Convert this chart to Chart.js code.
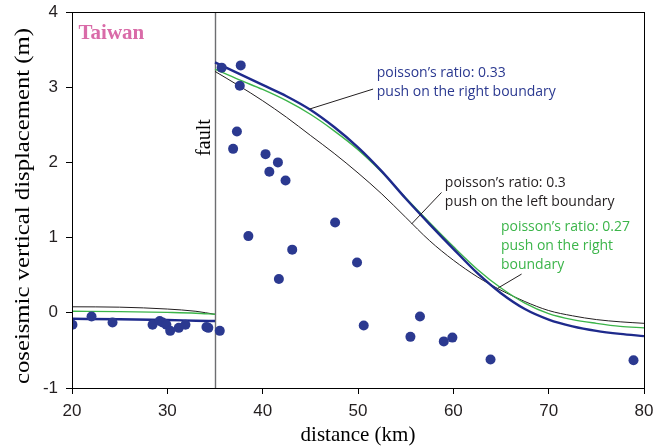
<!DOCTYPE html>
<html>
<head>
<meta charset="utf-8">
<script src="https://cdn.jsdelivr.net/npm/chart.js@4.4.0/dist/chart.umd.min.js"></script>
<style>
  body { margin: 0; background: #fff; }
  #wrap { width: 660px; height: 448px; }
</style>
</head>
<body>
<div id="wrap"><canvas id="disp" width="660" height="448"></canvas></div>
<script>
// measured coseismic uplift (distance km, displacement m)
const obsX = [20.05, 22.05, 24.25, 28.45, 29.2, 29.5, 29.9, 30.3, 31.2, 31.9, 34.1, 34.3, 35.5,
  35.7, 37.7, 37.6, 37.3, 36.9, 40.3, 41.6, 40.7, 42.4, 38.5, 43.1, 41.7, 47.6, 49.9,
  50.6, 56.5, 55.5, 59.0, 59.9, 63.9, 78.9];
const obsY = [-0.16, -0.05, -0.13, -0.16, -0.11, -0.13, -0.16, -0.24, -0.2, -0.16, -0.19, -0.2, -0.24,
  3.26, 3.29, 3.02, 2.41, 2.18, 2.11, 2.0, 1.875, 1.76, 1.02, 0.84, 0.45, 1.2, 0.67,
  -0.17, -0.05, -0.32, -0.38, -0.33, -0.62, -0.63];

// model curves: left of fault and right of fault
const leftX = [20, 25, 30, 33, 35];
const rightX = [35, 37.5, 40, 42.5, 45, 47.5, 50, 52.5, 55, 57.5, 60, 62.5, 65, 67.5, 70, 72.5, 75, 77.5, 80];

// poisson 0.33, push on right boundary
const blueLeft = [-0.08, -0.085, -0.095, -0.105, -0.11];
const blueRight = [3.33, 3.18, 3.03, 2.88, 2.70, 2.47, 2.20, 1.88, 1.52, 1.18, 0.85, 0.53, 0.26, 0.05, -0.09, -0.18, -0.24, -0.28, -0.31];
// poisson 0.27, push on right boundary
const greenLeft = [0.02, 0.015, 0.005, -0.005, -0.02];
const greenRight = [3.24, 3.10, 2.97, 2.82, 2.64, 2.42, 2.17, 1.87, 1.53, 1.20, 0.88, 0.58, 0.33, 0.13, -0.01, -0.09, -0.14, -0.18, -0.20];
// poisson 0.3, push on left boundary
const blackLeft = [0.08, 0.075, 0.05, 0.02, -0.02];
const blackRight = [3.21, 3.02, 2.82, 2.60, 2.36, 2.12, 1.86, 1.58, 1.27, 0.96, 0.70, 0.48, 0.30, 0.15, 0.03, -0.04, -0.09, -0.12, -0.14];

const xTicks = [20, 30, 40, 50, 60, 70, 80];
const yTicks = [-1, 0, 1, 2, 3, 4];
const faultKm = 35;
const yTitle = 'coseismic vertical displacement (m)';

const BLUE = '#2b3990';
const GREEN = '#3cb54a';
const DARK = '#231f20';

function pts(xs, ys) {
  return xs.map((x, i) => ({x: x, y: ys[i]}));
}

function curve(xs, ys, color, width) {
  return {
    type: 'line',
    data: pts(xs, ys),
    borderColor: color,
    borderWidth: width,
    pointRadius: 0,
    cubicInterpolationMode: 'monotone',
    fill: false,
    clip: 0
  };
}

// notes placed in data units, lines stacked 19px apart
const notes = [
  {x: 51.97, y: 3.19, color: BLUE, lines: ['poisson\u2019s ratio: 0.33', 'push on the right boundary']},
  {x: 59.11, y: 1.73, color: DARK, lines: ['poisson\u2019s ratio: 0.3', 'push on the left boundary']},
  {x: 64.99, y: 1.14, color: GREEN, lines: ['poisson\u2019s ratio: 0.27', 'push on the right', 'boundary']}
];
const leaders = [
  [44.93, 2.71, 51.58, 2.975],
  [55.61, 1.18, 58.76, 1.60],
  [64.70, 0.33, 67.16, 0.515]
];

const overlay = {
  id: 'overlay',
  beforeDatasetsDraw(chart) {
    const ctx = chart.ctx, a = chart.chartArea;
    const fx = Math.round(chart.scales.x.getPixelForValue(faultKm)) + 0.5;
    ctx.save();
    ctx.strokeStyle = '#6d6e71';
    ctx.lineWidth = 1.4;
    ctx.beginPath();
    ctx.moveTo(fx, a.top);
    ctx.lineTo(fx, a.bottom);
    ctx.stroke();
    ctx.restore();
  },
  afterDraw(chart) {
    const ctx = chart.ctx, a = chart.chartArea;
    const sx = chart.scales.x, sy = chart.scales.y;
    ctx.save();
    // frame
    ctx.strokeStyle = '#000';
    ctx.lineWidth = 1;
    ctx.strokeRect(a.left + 0.5, a.top + 0.5, a.right - a.left, a.bottom - a.top);

    // leader lines
    ctx.strokeStyle = DARK;
    leaders.forEach(l => {
      ctx.beginPath();
      ctx.moveTo(sx.getPixelForValue(l[0]), sy.getPixelForValue(l[1]));
      ctx.lineTo(sx.getPixelForValue(l[2]), sy.getPixelForValue(l[3]));
      ctx.stroke();
    });

    // annotation text
    ctx.font = '14px "Open Sans"';
    ctx.textAlign = 'left';
    ctx.textBaseline = 'middle';
    notes.forEach(n => {
      ctx.fillStyle = n.color;
      const px = sx.getPixelForValue(n.x), py = sy.getPixelForValue(n.y);
      n.lines.forEach((t, i) => ctx.fillText(t, px, py + i * 19));
    });

    // region label
    ctx.font = 'bold 21px "Liberation Serif"';
    ctx.fillStyle = '#d96ba8';
    ctx.fillText('Taiwan', sx.getPixelForValue(20.68), sy.getPixelForValue(3.71));

    // fault label
    ctx.save();
    ctx.translate(sx.getPixelForValue(faultKm) - 10, sy.getPixelForValue(2.33));
    ctx.rotate(-Math.PI / 2);
    ctx.textAlign = 'center';
    ctx.fillStyle = '#000';
    ctx.font = '20px "Liberation Serif"';
    ctx.fillText('fault', 0, 0);
    ctx.restore();

    // y axis title, stretched along its length like the original figure
    ctx.save();
    ctx.font = '21px "Liberation Serif"';
    ctx.fillStyle = '#000';
    ctx.textAlign = 'center';
    ctx.translate(23, (a.top + a.bottom) / 2 + 6);
    ctx.rotate(-Math.PI / 2);
    const w = ctx.measureText(yTitle).width;
    ctx.scale(356 / w, 1);
    ctx.fillText(yTitle, 0, 0);
    ctx.restore();

    ctx.restore();
  }
};

const ctx = document.getElementById('disp').getContext('2d');
const chart = new Chart(ctx, {
  type: 'scatter',
  data: {
    datasets: [
      {
        data: pts(obsX, obsY),
        backgroundColor: BLUE,
        borderColor: BLUE,
        pointRadius: 5,
        borderWidth: 0,
        clip: 0
      },
      curve(leftX, blueLeft, '#1e2a8c', 2.4),
      curve(rightX, blueRight, '#1e2a8c', 2.4),
      curve(leftX, greenLeft, GREEN, 1.4),
      curve(rightX, greenRight, GREEN, 1.4),
      curve(leftX, blackLeft, DARK, 1),
      curve(rightX, blackRight, DARK, 1)
    ]
  },
  options: {
    responsive: false,
    animation: false,
    layout: { padding: { left: 0, right: 16, top: 12, bottom: 0 } },
    plugins: {
      legend: { display: false },
      tooltip: { enabled: false }
    },
    scales: {
      x: {
        type: 'linear',
        min: 20,
        max: 80,
        afterBuildTicks: s => { s.ticks = xTicks.map(v => ({value: v})); },
        afterFit: s => { s.height = 60; s.paddingLeft = 0; s.paddingRight = 0; },
        ticks: { color: DARK, font: { family: 'Liberation Sans', size: 17 }, padding: 7 },
        grid: { drawOnChartArea: false, drawTicks: true, tickLength: 6, color: '#000' },
        border: { display: true, color: '#000', width: 1 },
        title: {
          display: true,
          text: 'distance (km)',
          color: '#000',
          font: { family: 'Liberation Serif', size: 21 },
          padding: { top: 0, bottom: 0 }
        }
      },
      y: {
        type: 'linear',
        min: -1,
        max: 4,
        afterBuildTicks: s => { s.ticks = yTicks.map(v => ({value: v})); },
        afterFit: s => { s.width = 72; s.paddingTop = 0; s.paddingBottom = 0; },
        ticks: { color: DARK, font: { family: 'Liberation Sans', size: 17 }, padding: 8 },
        grid: { drawOnChartArea: false, drawTicks: true, tickLength: 6, color: '#000' },
        border: { display: true, color: '#000', width: 1 },
        title: { display: false }
      }
    }
  },
  plugins: [overlay]
});
</script>
</body>
</html>
